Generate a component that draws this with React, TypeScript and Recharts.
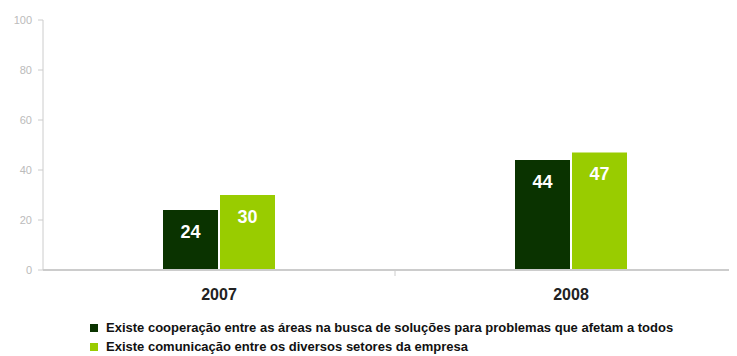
import { BarChart, Bar, XAxis, YAxis, Legend, LabelList } from 'recharts';

const years = ['2007', '2008'];
const cooperacao = [24, 44];
const comunicacao = [30, 47];
const yTicks = [0, 20, 40, 60, 80, 100];
const seriesNames = [
  'Existe cooperação entre as áreas na busca de soluções para problemas que afetam a todos',
  'Existe comunicação entre os diversos setores da empresa',
];
const colors = ['#0a3300', '#99cc00'];

const data = years.map((year, i) => ({
  year,
  cooperacao: cooperacao[i],
  comunicacao: comunicacao[i],
}));

const font = 'Arial, "Liberation Sans", sans-serif';
const yearMargin = 18;

const YearTick = (props: any) => {
  const { x, y, payload, index } = props;
  const half = payload && payload.offset ? payload.offset : 176;
  const axisY = y - yearMargin;
  return (
    <g>
      <text
        x={x}
        y={axisY + 30}
        textAnchor="middle"
        fontFamily={font}
        fontSize={16}
        fontWeight="bold"
        fill="#222"
      >
        {payload.value}
      </text>
      {index === 0 && (
        <line x1={x + half} x2={x + half} y1={axisY} y2={axisY + 6} stroke="#ccc" />
      )}
    </g>
  );
};

const LegendBox = () => (
  <div style={{ fontFamily: font, fontSize: 13, fontWeight: 'bold', color: '#111', lineHeight: '19px' }}>
    {seriesNames.map((name, i) => (
      <div key={name} style={{ display: 'flex', alignItems: 'center' }}>
        <span
          style={{ display: 'inline-block', width: 8, height: 8, background: colors[i], marginRight: 8 }}
        />
        {name}
      </div>
    ))}
  </div>
);

const barLabel = {
  position: 'insideTop' as const,
  offset: 15,
  fill: '#fff',
  fontSize: 18,
  fontWeight: 'bold',
  fontFamily: font,
};

export default function App() {
  return (
    <div style={{ width: 729, height: 348, overflow: 'hidden' }}>
      <BarChart
        width={745}
        height={348}
        data={data}
        margin={{ top: 12, right: 6, bottom: 0, left: 0 }}
        barSize={55}
        barGap={2}
      >
        <XAxis
          dataKey="year"
          axisLine={{ stroke: '#ccc', strokeWidth: 2 }}
          tickLine={false}
          tickSize={0}
          tickMargin={yearMargin}
          tick={<YearTick />}
          height={48}
        />
        <YAxis
          domain={[0, 100]}
          ticks={yTicks}
          width={35}
          axisLine={{ stroke: '#ccc' }}
          tickLine={{ stroke: '#ccc' }}
          tickSize={5}
          tickMargin={6}
          tick={{ fill: '#bbb', fontSize: 11, fontFamily: font }}
          interval={0}
        />
        <Legend
          verticalAlign="bottom"
          align="left"
          content={<LegendBox />}
          wrapperStyle={{ left: 82, bottom: 0, width: 660 }}
        />
        <Bar dataKey="cooperacao" fill={colors[0]} isAnimationActive={false}>
          <LabelList dataKey="cooperacao" {...barLabel} />
        </Bar>
        <Bar dataKey="comunicacao" fill={colors[1]} isAnimationActive={false}>
          <LabelList dataKey="comunicacao" {...barLabel} />
        </Bar>
      </BarChart>
    </div>
  );
}
